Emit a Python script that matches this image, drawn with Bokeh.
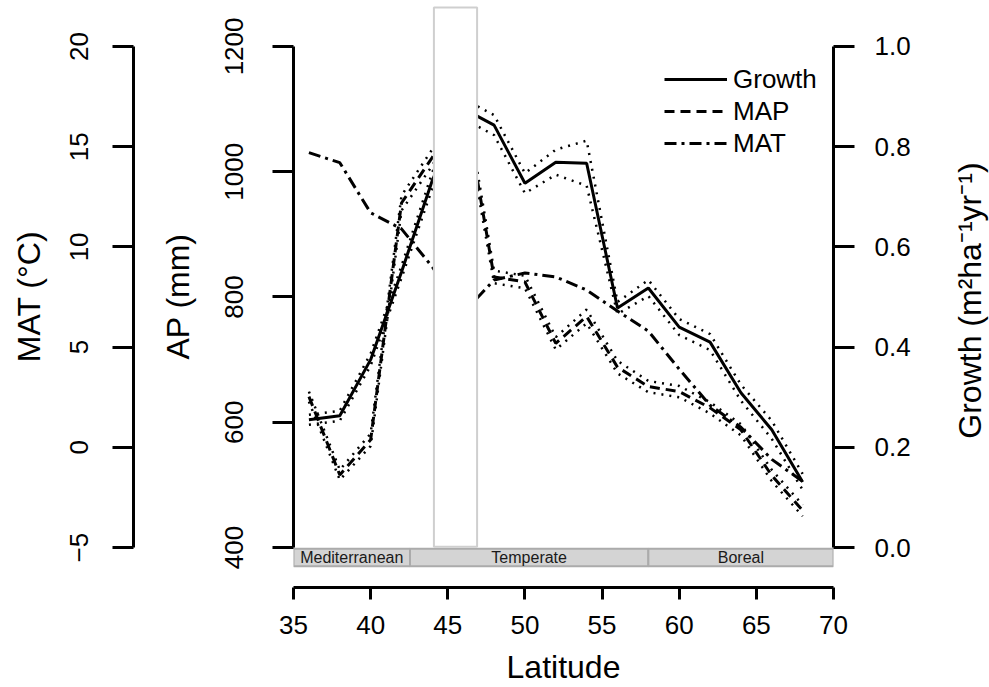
import math
from bokeh.plotting import figure
from bokeh.layouts import row
from bokeh.models import (Range1d, LinearAxis, FixedTicker, Legend, LegendItem,
                          PrintfTickFormatter, ColumnDataSource, Label)
from bokeh.embed import file_html
from bokeh.resources import INLINE
from bokeh.core.properties import value

# ---------------- data ----------------
lat = [36, 38, 40, 42, 44, 46, 48, 50, 52, 54, 56, 58, 60, 62, 64, 66, 68]

growth = [0.255, 0.263, 0.375, 0.550, 0.733, 0.876, 0.843, 0.727, 0.769, 0.767,
          0.478, 0.518, 0.440, 0.410, 0.309, 0.235, 0.131]
growth_hi = [0.265, 0.273, 0.387, 0.562, 0.749, 0.896, 0.863, 0.747, 0.794, 0.812,
             0.490, 0.534, 0.456, 0.426, 0.325, 0.253, 0.147]
growth_lo = [0.245, 0.253, 0.363, 0.538, 0.717, 0.856, 0.823, 0.707, 0.744, 0.722,
             0.466, 0.502, 0.424, 0.394, 0.293, 0.217, 0.115]

map_mm = [641, 516, 572, 950, 1023, 1118, 832, 824, 726, 769, 688, 657, 649, 623, 588, 515, 459]
map_hi = [649, 524, 582, 962, 1036, 1136, 842, 834, 736, 780, 698, 666, 658, 632, 597, 524, 468]
map_lo = [633, 508, 562, 938, 1010, 1100, 822, 814, 716, 758, 678, 648, 640, 614, 579, 506, 450]

mat_c = [14.7, 14.2, 11.7, 10.9, 9.0, 6.7, 8.35, 8.7, 8.5, 7.85, 6.8, 5.8, 3.9, 2.1, 1.0, -0.6, -1.7]

biome_names = ["Mediterranean", "Temperate", "Boreal"]
biome_left = [35, 42.55, 58]
biome_right = [42.55, 58, 70]

box_lat = (44.1, 46.9)

x_ticks = [35, 40, 45, 50, 55, 60, 65, 70]
ap_ticks = [400, 600, 800, 1000, 1200]
mat_ticks = [-5, 0, 5, 10, 15, 20]
growth_ticks = [0.0, 0.2, 0.4, 0.6, 0.8, 1.0]

growth_title = "Growth (m²ha⁻¹yr⁻¹)"

FONT = "Liberation Sans"
TICK_FS = "26px"
LABEL_FS = "32px"

# ---------------- main figure ----------------
p = figure(width=950, height=687, output_backend="svg", toolbar_location=None,
           x_range=Range1d(35, 70), y_range=Range1d(336.25, 1265.34),
           min_border_left=293, min_border_right=117, min_border_top=5,
           min_border_bottom=99)
p.extra_y_ranges = {"mat": Range1d(-6.992, 22.042),
                    "growth": Range1d(-0.0797, 1.0817)}
p.outline_line_color = None
p.xgrid.visible = False
p.ygrid.visible = False
p.background_fill_color = "white"
p.border_fill_color = "white"


def style_axis(ax, ticks, label, tick_out=21):
    ax.ticker = FixedTicker(ticks=ticks)
    ax.axis_label = label
    ax.axis_label_text_font = FONT
    ax.axis_label_text_font_size = LABEL_FS
    ax.axis_label_text_font_style = "normal"
    ax.axis_label_text_color = "black"
    ax.major_label_text_font = FONT
    ax.major_label_text_font_size = TICK_FS
    ax.major_label_text_color = "black"
    ax.axis_line_width = 3
    ax.axis_line_color = "black"
    ax.major_tick_line_width = 3
    ax.major_tick_line_color = "black"
    ax.major_tick_out = tick_out
    ax.major_tick_in = 0
    ax.minor_tick_out = 0
    ax.minor_tick_in = 0
    ax.minor_tick_line_color = None


# x axis
xa = p.xaxis[0]
style_axis(xa, x_ticks, "Latitude", 12)
xa.major_label_standoff = 16
xa.axis_label_standoff = 12

# AP axis (inner left)
apa = p.yaxis[0]
style_axis(apa, ap_ticks, "AP (mm)", 21)
apa.bounds = (400, 1200)
apa.major_label_orientation = "parallel"
apa.major_label_standoff = 29
apa.axis_label_standoff = 27

# invisible spacer between AP and MAT axes (one white tick far above the data)
spacer = LinearAxis(y_range_name="mat", ticker=FixedTicker(ticks=[21.8]),
                    axis_line_color=None, major_tick_out=18, major_tick_in=0,
                    major_tick_line_color="white", major_tick_line_width=1,
                    minor_tick_out=0, minor_tick_in=0, minor_tick_line_color=None,
                    major_label_standoff=0, major_label_text_font_size="1px",
                    major_label_text_color="white")
p.add_layout(spacer, "left")

# MAT axis (outer left)
mata = LinearAxis(y_range_name="mat")
style_axis(mata, mat_ticks, "MAT (°C)", 21)
mata.bounds = (-5, 20)
mata.major_label_orientation = "parallel"
mata.major_label_standoff = 24
mata.axis_label_standoff = 21
p.add_layout(mata, "left")

# Growth axis (right); its title sits in a narrow companion panel
ga = LinearAxis(y_range_name="growth")
style_axis(ga, growth_ticks, None, 21)
ga.bounds = (0, 1)
ga.formatter = PrintfTickFormatter(format="%.1f")
ga.major_label_orientation = "horizontal"
ga.major_label_standoff = 20
p.add_layout(ga, "right")

# ---------------- biome bar ----------------
bsrc = ColumnDataSource(dict(left=biome_left, right=biome_right,
                             xc=[(a + b) / 2 for a, b in zip(biome_left, biome_right)],
                             name=biome_names))
p.quad(left="left", right="right", bottom=370, top=398, source=bsrc,
       fill_color="#d4d4d4", line_color="#ababab", line_width=2)
p.text(x="xc", y=384, text="name", source=bsrc, text_align="center",
       text_baseline="middle", text_font=value(FONT), text_font_size="16px",
       text_color="#1a1a1a")

# ---------------- lines ----------------
src = ColumnDataSource(dict(lat=lat, growth=growth, glo=growth_lo, ghi=growth_hi,
                            ap=map_mm, aplo=map_lo, aphi=map_hi, mat=mat_c))

DOT = dict(line_color="black", line_width=2.5, line_dash="2 6")
p.line("lat", "aplo", source=src, **DOT)
p.line("lat", "aphi", source=src, **DOT)
map_line = p.line("lat", "ap", source=src, line_color="black", line_width=3,
                  line_dash="10 6")

mat_line = p.line("lat", "mat", source=src, y_range_name="mat", line_color="black",
                  line_width=3, line_dash="12 5 3 5")

p.line("lat", "glo", source=src, y_range_name="growth", **DOT)
p.line("lat", "ghi", source=src, y_range_name="growth", **DOT)
g_line = p.line("lat", "growth", source=src, y_range_name="growth",
                line_color="black", line_width=3)

# highlighted latitude band (white box with grey frame, drawn over lines)
p.quad(left=box_lat[0], right=box_lat[1], bottom=401.5, top=1262,
       fill_color="white", line_color="#cfcfcf", line_width=2)

# ---------------- legend ----------------
legend = Legend(items=[LegendItem(label="Growth", renderers=[g_line]),
                       LegendItem(label="MAP", renderers=[map_line]),
                       LegendItem(label="MAT", renderers=[mat_line])],
                location=(371, 428), border_line_color=None,
                background_fill_alpha=0, padding=0, margin=0, spacing=0,
                glyph_width=63, glyph_height=32, label_height=32,
                label_standoff=6, label_text_font=FONT,
                label_text_font_size="26px", label_text_color="black")
p.add_layout(legend)

# ---------------- companion panel for the right-hand axis title ----------------
p2 = figure(width=39, height=687, output_backend="svg", toolbar_location=None,
            x_range=Range1d(0, 1), y_range=Range1d(0, 1),
            min_border_left=0, min_border_right=0, min_border_top=0,
            min_border_bottom=0, x_axis_location=None, y_axis_location=None)
p2.outline_line_color = None
p2.grid.visible = False
p2.background_fill_color = "white"
p2.border_fill_color = "white"
p2.add_layout(Label(x=0.5, y=0.493, text=growth_title, angle=math.pi / 2,
                    text_align="center", text_baseline="middle",
                    text_font=FONT, text_font_size=LABEL_FS, text_color="black"))

layout = row(p, p2, spacing=0)
open("out.html", "w").write(file_html(layout, INLINE))
